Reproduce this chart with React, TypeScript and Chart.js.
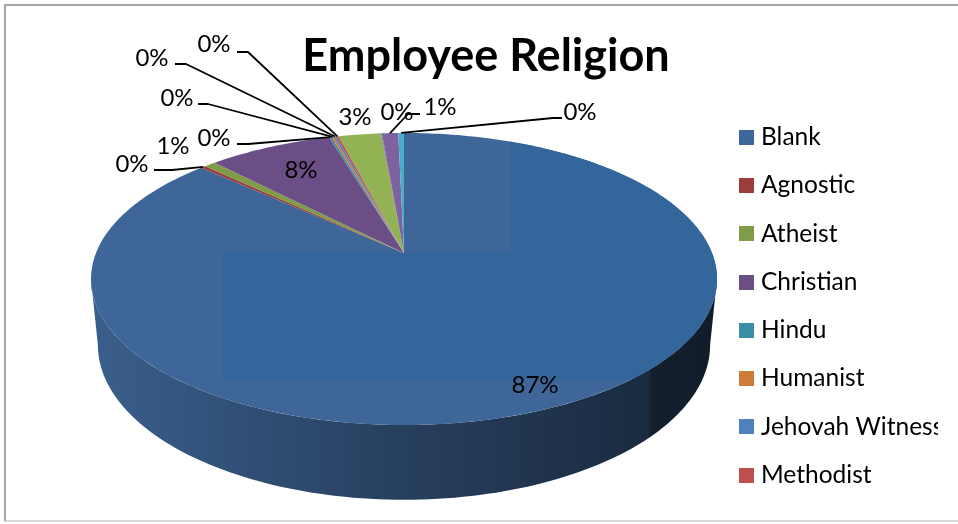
import React, { useEffect, useRef } from "react";
import { Chart, ArcElement, PieController, Title, Legend } from "chart.js";

// Survey counts, expressed as a share of all employees.
const religions = [
  "Blank", "Agnostic", "Atheist", "Christian", "Hindu", "Humanist",
  "Jehovah Witness", "Methodist", "Muslim", "None", "Other", "Unknown",
];
const shares = [86.8, 0.3, 0.7, 7.6, 0.15, 0.15, 0.15, 0.15, 2.6, 0.05, 1, 0.35];
const sliceColours = [
  "#3F6698", "#9A3D3B", "#7F9C48", "#6C4E86", "#3B8EA5", "#CC7B38",
  "#4F81BD", "#C0504D", "#93B254", "#8064A2", "#7E62A0", "#4BACC6",
];
const legendEntries = 8;

// Where each percentage sits, with the bend of its leader line when it has one.
const labelSpots = [
  [535, 385], [132, 164], [173, 146], [301, 170], [214, 138], [177, 98],
  [152, 58], [214, 44], [355, 117], [397, 112], [440, 107], [580, 112],
];
const leaderBends: (number[][] | null)[] = [
  null,
  [[154, 170], [172, 170]],
  null,
  null,
  [[237, 144], [248, 144]],
  [[198, 104], [208, 104]],
  [[175, 64], [186, 64]],
  [[237, 52], [248, 52]],
  null,
  null,
  [[420, 114], [408, 114]],
  [[562, 118], [553, 118]],
];

// Perspective of the tilted disc: hub, near/far foreshortening and half width.
const HUB_X = 404;
const HUB_Y = 253;
const TILT = -0.178;
const DEPTH_SCALE = 141.4;
const WIDTH_SCALE = 308;
const RIM_CENTRE_Y = 279;

function project(angle: number) {
  const u = Math.cos(angle);
  const v = Math.sin(angle);
  const w = 1 + TILT * v;
  return { x: HUB_X + (WIDTH_SCALE * u) / w, y: HUB_Y + (DEPTH_SCALE * v) / w };
}

// The lower rim of the wall is the upper rim, dropped and slightly narrowed.
function projectLower(angle: number) {
  const p = project(angle);
  return { x: HUB_X + 0.978 * (p.x - HUB_X), y: RIM_CENTRE_Y + 1.06 * (p.y - RIM_CENTRE_Y) + 66 };
}

function shade(hex: string, factor: number) {
  const n = parseInt(hex.slice(1), 16);
  const c = [(n >> 16) & 255, (n >> 8) & 255, n & 255].map((v) => Math.round(v * factor));
  return `rgb(${c[0]},${c[1]},${c[2]})`;
}

class TiltedArc extends ArcElement {
  static id = "tiltedArc";
  static defaults = { ...ArcElement.defaults };

  draw(ctx: CanvasRenderingContext2D) {
    const { startAngle, endAngle } = (this as any).getProps(["startAngle", "endAngle"]);
    const colour = (this as any).options.backgroundColor as string;
    const index = (this as any).$context?.index ?? 0;
    const steps = Math.max(2, Math.ceil((endAngle - startAngle) * 60));

    // Outer wall: only the part of the rim that faces the viewer.
    const wallFrom = Math.max(startAngle, 0.179);
    const wallTo = Math.min(endAngle, Math.PI - 0.179);
    if (wallTo > wallFrom) {
      const wall = ctx.createLinearGradient(91, 0, 717, 0);
      wall.addColorStop(0, shade(colour, 0.92));
      wall.addColorStop(0.2, shade(colour, 0.8));
      wall.addColorStop(0.5, shade(colour, 0.62));
      wall.addColorStop(0.89, shade(colour, 0.42));
      wall.addColorStop(0.895, shade(colour, 0.3));
      wall.addColorStop(1, shade(colour, 0.27));
      ctx.beginPath();
      for (let i = 0; i <= 120; i++) {
        const p = project(wallFrom + ((wallTo - wallFrom) * i) / 120);
        i === 0 ? ctx.moveTo(p.x, p.y) : ctx.lineTo(p.x, p.y);
      }
      for (let i = 120; i >= 0; i--) {
        const p = projectLower(wallFrom + ((wallTo - wallFrom) * i) / 120);
        ctx.lineTo(p.x, p.y);
      }
      ctx.closePath();
      ctx.fillStyle = wall;
      ctx.fill();
    }

    // Top face.
    ctx.save();
    ctx.beginPath();
    ctx.moveTo(HUB_X, HUB_Y);
    for (let i = 0; i <= steps; i++) {
      const p = project(startAngle + ((endAngle - startAngle) * i) / steps);
      ctx.lineTo(p.x, p.y);
    }
    ctx.closePath();
    ctx.fillStyle = colour;
    ctx.fill();

    // The largest slice carries a faintly different blue over part of its face.
    if (index === 0) {
      ctx.clip();
      ctx.fillStyle = "#33669B";
      ctx.fillRect(510, 130, 250, 250);
      ctx.fillRect(222, 253, 288, 127);
    }
    ctx.restore();
  }
}

class TiltedPieController extends PieController {
  static id = "tiltedPie";
  static defaults = { ...PieController.defaults, dataElementType: "tiltedArc" };
}

// Percent labels and their leader lines, anchored on each slice's rim midpoint.
const percentLabels = {
  id: "percentLabels",
  afterDatasetsDraw(chart: Chart) {
    const ctx = chart.ctx;
    const total = shares.reduce((a, b) => a + b, 0);
    const arcs = chart.getDatasetMeta(0).data as any[];
    ctx.save();
    ctx.strokeStyle = "#000";
    ctx.lineWidth = 1.8;
    ctx.lineJoin = "round";
    leaderBends.forEach((bends, i) => {
      if (!bends) return;
      const rim = project((arcs[i].startAngle + arcs[i].endAngle) / 2);
      ctx.beginPath();
      ctx.moveTo(bends[0][0], bends[0][1]);
      ctx.lineTo(bends[1][0], bends[1][1]);
      ctx.lineTo(rim.x, rim.y);
      ctx.stroke();
    });
    ctx.fillStyle = "#000";
    ctx.font = "24px Lato";
    ctx.textAlign = "center";
    ctx.textBaseline = "middle";
    shares.forEach((value, i) => {
      ctx.fillText(`${Math.round((value / total) * 100)}%`, labelSpots[i][0], labelSpots[i][1]);
    });
    ctx.restore();
  },
};

function swatch(colour: string) {
  const c = document.createElement("canvas");
  c.width = 15;
  c.height = 15;
  const g = c.getContext("2d")!;
  g.fillStyle = colour;
  g.fillRect(0, 0, 15, 15);
  return c;
}

Chart.register(ArcElement, TiltedArc, TiltedPieController, Title, Legend);

export default function App() {
  const canvasRef = useRef<HTMLCanvasElement>(null);

  useEffect(() => {
    const chart = new Chart(canvasRef.current!, {
      type: "tiltedPie" as any,
      data: {
        labels: religions,
        datasets: [{ data: shares, backgroundColor: sliceColours, borderWidth: 0, clip: false } as any],
      },
      options: {
        responsive: false,
        maintainAspectRatio: false,
        animation: false,
        layout: { padding: { left: 34, top: 29, right: 0, bottom: 13 } },
        plugins: {
          tooltip: { enabled: false },
          title: {
            display: true,
            text: "Employee Religion",
            color: "#000",
            font: { family: "Lato", size: 45, weight: "bold" },
            padding: { top: 0, bottom: 10 },
          },
          legend: {
            position: "right",
            align: "end",
            maxWidth: 218,
            labels: {
              color: "#000",
              font: { family: "Lato", size: 24.5 },
              padding: 23.75,
              usePointStyle: true,
              pointStyleWidth: 5,
              boxHeight: 15,
              generateLabels: () =>
                religions.slice(0, legendEntries).map((text, i) => ({
                  text,
                  index: i,
                  pointStyle: swatch(sliceColours[i]),
                  fontColor: "#000",
                  lineWidth: 0,
                })),
            },
          },
        },
      } as any,
      plugins: [percentLabels],
    });
    return () => chart.destroy();
  }, []);

  return (
    <div style={{ position: "fixed", left: 0, top: 0, width: 958, height: 524, background: "#fff", overflow: "hidden" }}>
      <div
        style={{
          position: "absolute",
          left: 4,
          top: 4,
          width: 954,
          height: 518,
          boxSizing: "border-box",
          borderTop: "2px solid #a6a6a6",
          borderLeft: "2px solid #a6a6a6",
          borderBottom: "2px solid #d9d9d9",
        }}
      />
      <canvas ref={canvasRef} width={938} height={524} style={{ position: "absolute", left: 0, top: 0 }} />
    </div>
  );
}
